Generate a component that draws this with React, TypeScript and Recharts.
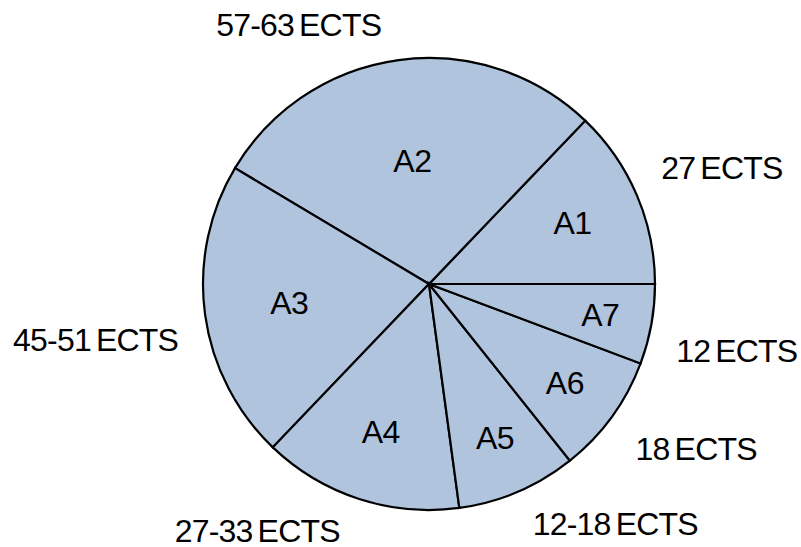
import React from 'react';
import { PieChart, Pie, Cell } from 'recharts';

const categories = ['A1', 'A2', 'A3', 'A4', 'A5', 'A6', 'A7'];
const ectsValues = [27, 60, 45, 30, 18, 18, 12];
const ectsLabels = ['27 ECTS', '57-63 ECTS', '45-51 ECTS', '27-33 ECTS', '12-18 ECTS', '18 ECTS', '12 ECTS'];

// layout-only constants for label placement
const innerLabelRadius = [156, 124, 141, 156, 168, 168, 174];
const outerLabelAngle = [21.6, 116.7, 189.5, 235.2, 307.8, 328.3, 347.7];
const outerLabelRadius = [315, 290, 338, 301, 304, 314, 315];

const data = categories.map((name, i) => ({ name, value: ectsValues[i], ects: ectsLabels[i] }));

const RAD = Math.PI / 180;
const FONT = '"Liberation Sans", Arial, Helvetica, sans-serif';

const renderLabel = (props: any) => {
  const { cx, cy, midAngle, index } = props;
  const ri = innerLabelRadius[index];
  const xi = cx + ri * Math.cos(-midAngle * RAD);
  const yi = cy + ri * Math.sin(-midAngle * RAD);
  const ro = outerLabelRadius[index];
  const ao = outerLabelAngle[index];
  const xo = cx + ro * Math.cos(-ao * RAD);
  const yo = cy + ro * Math.sin(-ao * RAD);
  return (
    <g>
      <text x={xi} y={yi} textAnchor="middle" dominantBaseline="central" fill="#000" fontSize={32} fontFamily={FONT} letterSpacing={-0.5}>
        {categories[index]}
      </text>
      <text x={xo} y={yo} textAnchor="middle" dominantBaseline="central" fill="#000" fontSize={32} fontFamily={FONT} letterSpacing={-0.8} wordSpacing={-3}>
        {ectsLabels[index]}
      </text>
    </g>
  );
};

export default function App() {
  return (
    <div style={{ position: 'absolute', left: 0, top: 0, width: 801, height: 547, background: '#fff' }}>
      <PieChart width={801} height={547} margin={{ top: 0, right: 0, bottom: 0, left: 0 }}>
        <Pie
          data={data}
          dataKey="value"
          nameKey="name"
          cx={429}
          cy={284}
          outerRadius={226}
          innerRadius={0}
          startAngle={0}
          endAngle={360}
          stroke="#000"
          strokeWidth={2}
          fill="#b0c4de"
          label={renderLabel}
          labelLine={false}
          isAnimationActive={false}
        >
          {data.map((d) => (
            <Cell key={d.name} fill="#b0c4de" stroke="#000" strokeWidth={2.2} />
          ))}
        </Pie>
      </PieChart>
    </div>
  );
}
